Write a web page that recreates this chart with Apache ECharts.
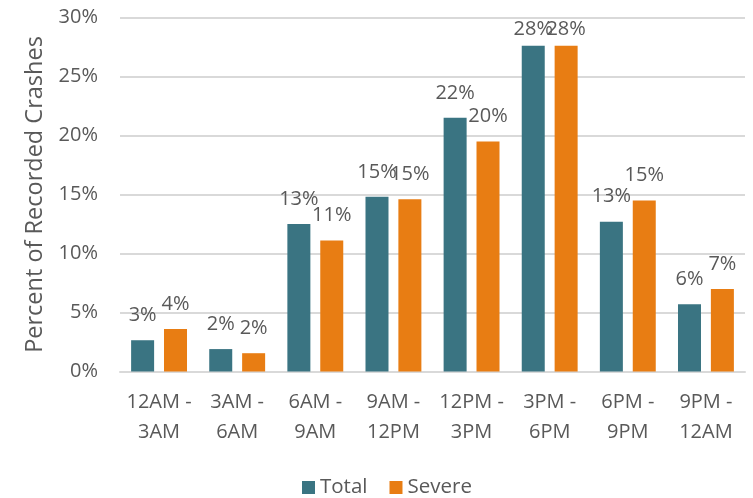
<!DOCTYPE html>
<html><head><meta charset="utf-8">
<script src="https://cdn.jsdelivr.net/npm/echarts@6/dist/echarts.min.js"></script>
<style>html,body{margin:0;padding:0;background:#fff}#c{width:753px;height:498px}</style>
</head><body><div id="c"></div>
<script>
const categories = ['12AM -\n3AM','3AM -\n6AM','6AM -\n9AM','9AM -\n12PM','12PM -\n3PM','3PM -\n6PM','6PM -\n9PM','9PM -\n12AM'];
const totalValues = [2.65, 1.9, 12.5, 14.8, 21.5, 27.6, 12.7, 5.7];
const severeValues = [3.6, 1.55, 11.1, 14.6, 19.5, 27.6, 14.5, 7.0];
const yTicks = [0, 5, 10, 15, 20, 25, 30];

const FONT = '"Open Sans", sans-serif';
const TXT = '#595959';
const chart = echarts.init(document.getElementById('c'));
const lbl = {show:true, position:'top', distance:15, color:TXT, fontSize:20, fontFamily:FONT,
  formatter: p => Math.round(p.value) + '%'};
// labels near the top edge are pushed down to stay inside the plot (as in the original)
const withLabels = arr => arr.map(v => v > 26 ? {value:v, label:{distance:7}} : v);
chart.setOption({
  animation:false,
  grid:{left:120, right:8, top:17.5, bottom:126.5},
  legend:{top:472, left:297, itemWidth:13, itemHeight:13, itemGap:22,
    icon:'rect', textStyle:{color:TXT, fontSize:20.5, fontFamily:FONT},
    data:['Total','Severe']},
  xAxis:{type:'category', data:categories,
    axisLine:{lineStyle:{color:'#d9d9d9', width:2}}, axisTick:{show:false},
    axisLabel:{interval:0, color:TXT, fontSize:20, fontFamily:FONT, lineHeight:30, margin:16}},
  yAxis:{type:'value', min:yTicks[0], max:yTicks[yTicks.length-1], interval:5,
    name:'Percent of Recorded Crashes', nameLocation:'middle', nameGap:72, nameRotate:90,
    nameTextStyle:{color:TXT, fontSize:23.5, fontFamily:FONT},
    axisLine:{show:false}, axisTick:{show:false},
    axisLabel:{color:TXT, fontSize:20, fontFamily:FONT, margin:22, formatter: v => v + '%'},
    splitLine:{lineStyle:{color:'#d9d9d9', width:2}}},
  series:[
    {name:'Total', type:'bar', data:withLabels(totalValues), barWidth:23, barGap:'43%',
     itemStyle:{color:'#3A7482'}, label:lbl},
    {name:'Severe', type:'bar', data:withLabels(severeValues), barWidth:23,
     itemStyle:{color:'#E87D13'}, label:lbl}
  ]
});
</script></body></html>
